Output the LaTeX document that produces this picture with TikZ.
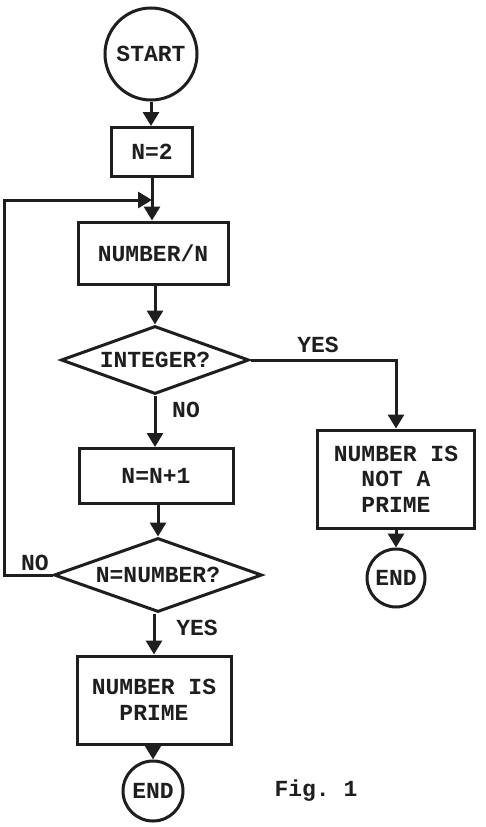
\documentclass[tikz,border=0pt]{standalone}
\usepackage{fontspec}
\setmonofont{Liberation Mono}
\usetikzlibrary{shapes.geometric,arrows.meta}
\definecolor{ink}{RGB}{30,30,30}
\tikzset{
  every node/.style={text=ink,font=\ttfamily\bfseries\fontsize{23}{25.5}\selectfont},
  flow/.style={draw=ink,line width=3pt},
  boxnode/.style={flow,rectangle,inner sep=0pt,align=center},
  termnode/.style={flow,circle,inner sep=0pt},
  decnode/.style={flow,diamond,inner sep=0pt,aspect=2.8},
  arr/.style={draw=ink,line width=3pt,-{Triangle[width=16pt,length=14pt]}},
  ln/.style={draw=ink,line width=3pt},
  lbl/.style={inner sep=0pt}
}
\begin{document}
\begin{tikzpicture}[x=1pt,y=-1pt]
\useasboundingbox[fill=white] (0,0) rectangle (485,827);
\node[termnode,minimum size=92pt] (start) at (151,54) {START};
\node[boxnode,minimum width=81pt,minimum height=49pt] (n2) at (152,152) {N=2};
\node[boxnode,minimum width=150pt,minimum height=62pt] (div) at (153,253) {NUMBER/N};
\node[decnode,minimum width=188pt,minimum height=68pt] (int) at (155,360) {INTEGER?};
\node[boxnode,minimum width=154pt,minimum height=55pt] (inc) at (156,476) {N=N+1};
\node[decnode,minimum width=208pt,minimum height=74pt] (eq) at (158,575) {N=NUMBER?};
\node[boxnode,minimum width=157pt,minimum height=98pt] (notp) at (396,479) {NUMBER IS\\NOT A\\PRIME};
\node[termnode,minimum size=58pt] (end1) at (396,578) {END};
\node[boxnode,minimum width=154pt,minimum height=88pt] (prime) at (154,700) {NUMBER IS\\PRIME};
\node[termnode,minimum size=60pt] (end2) at (153,791) {END};
\node[lbl] (yes1) at (318,345) {YES};
\node[lbl] (no1) at (186,410) {NO};
\node[lbl] (no2) at (35,563) {NO};
\node[lbl] (yes2) at (197,628) {YES};
\node[lbl] (fig) at (316,791) {Fig. 1};
\coordinate (join) at (152,200);
\coordinate (lc1) at (4,575);
\coordinate (lc2) at (4,200);
\coordinate (rc) at (396,360);
\draw[arr] (start.south) -- (start.south |- n2.north);
\draw[ln] (n2.south) -- (join);
\draw[arr] (join) -- (join |- div.north);
\draw[arr] (div.south -| int.north) -- (int.north);
\draw[arr] (int.south) -- (int.south |- inc.north);
\draw[arr] (inc.south -| eq.north) -- (eq.north);
\draw[arr] (eq.south -| prime.north) -- (prime.north);
\draw[arr] (prime.south -| end2.north) -- (end2.north);
\draw[arr] (eq.west) -- (lc1) -- (lc2) -- (join);
\draw[arr] (int.east) -- (rc) -- (notp.north);
\draw[arr] (notp.south) -- (end1.north);
\end{tikzpicture}
\end{document}
